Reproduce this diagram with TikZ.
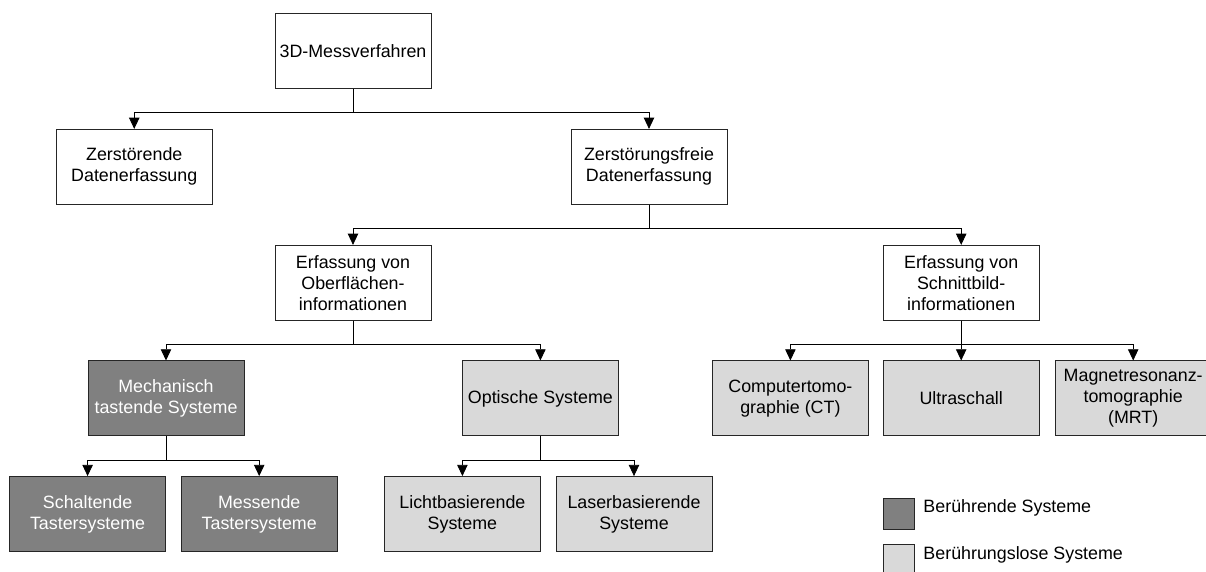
\documentclass[tikz,border=0pt]{standalone}
\usepackage{fontspec}
\setmainfont{Liberation Sans}
\usetikzlibrary{arrows.meta,positioning}
\definecolor{darkfill}{HTML}{808080}
\definecolor{lightfill}{HTML}{D9D9D9}

\begin{document}
\begin{tikzpicture}[
    font=\fontsize{12.7}{15}\selectfont,
    box/.style={draw=black!85, line width=0.6pt, minimum width=3.9cm, minimum height=1.875cm, align=center, inner sep=1pt},
    dark/.style={box, fill=darkfill, text=white},
    light/.style={box, fill=lightfill},
    legbox/.style={draw=black!85, line width=0.6pt, minimum size=0.78cm, inner sep=0pt},
    arr/.style={-{Triangle[length=0.28cm, width=0.26cm]}, line width=0.6pt}
]
    \useasboundingbox (0,0) rectangle (30.15,-14.275);

    % levels 1-3
    \node[box] (top) at (8.825,-1.27) {3D-Messverfahren};
    \node[box] (zd) at (3.356,-4.17) {Zerstörende\\Datenerfassung};
    \node[box] (zf) at (16.225,-4.17) {Zerstörungsfreie\\Datenerfassung};
    \node[box] (ob) at (8.825,-7.07) {Erfassung von\\Oberflächen-\\informationen};
    \node[box] (sb) at (24.03,-7.07) {Erfassung von\\Schnittbild-\\informationen};

    % level 4
    \node[dark] (mech) at (4.15,-9.96) {Mechanisch\\tastende Systeme};
    \node[light] (opt) at (13.51,-9.96) {Optische Systeme};
    \node[light] (ct) at (19.76,-9.96) {Computertomo-\\graphie (CT)};
    \node[light] (us) at (24.03,-9.96) {Ultraschall};
    \node[light] (mrt) at (28.33,-9.96) {Magnetresonanz-\\tomographie\\(MRT)};

    % level 5
    \node[dark] (sch) at (2.19,-12.85) {Schaltende\\Tastersysteme};
    \node[dark] (mes) at (6.48,-12.85) {Messende\\Tastersysteme};
    \node[light] (lic) at (11.56,-12.85) {Lichtbasierende\\Systeme};
    \node[light] (las) at (15.85,-12.85) {Laserbasierende\\Systeme};

    % connectors
    \draw[arr] (top.south) -- ++(0,-0.6) -| (zd.north);
    \draw[arr] (top.south) -- ++(0,-0.6) -| (zf.north);
    \draw[arr] (zf.south) -- ++(0,-0.58) -| (ob.north);
    \draw[arr] (zf.south) -- ++(0,-0.58) -| (sb.north);
    \draw[arr] (ob.south) -- ++(0,-0.58) -| (mech.north);
    \draw[arr] (ob.south) -- ++(0,-0.58) -| (opt.north);
    \draw[arr] (sb.south) -- ++(0,-0.58) -| (ct.north);
    \draw[arr] (sb.south) -- (us.north);
    \draw[arr] (sb.south) -- ++(0,-0.58) -| (mrt.north);
    \draw[arr] (mech.south) -- ++(0,-0.59) -| (sch.north);
    \draw[arr] (mech.south) -- ++(0,-0.59) -| (mes.north);
    \draw[arr] (opt.south) -- ++(0,-0.59) -| (lic.north);
    \draw[arr] (opt.south) -- ++(0,-0.59) -| (las.north);

    % legend
    \node[legbox, fill=darkfill] (legd) at (22.47,-12.85) {};
    \node[legbox, fill=lightfill] (legl) at (22.47,-14.01) {};
    \node[anchor=west, inner sep=0pt] (legdt) at (23.08,-12.7) {Berührende Systeme};
    \node[anchor=west, inner sep=0pt] (leglt) at (23.08,-13.875) {Berührungslose Systeme};
\end{tikzpicture}
\end{document}
